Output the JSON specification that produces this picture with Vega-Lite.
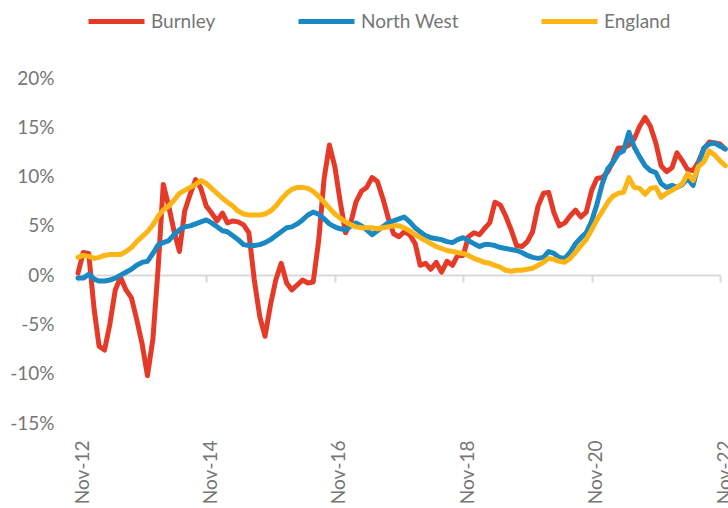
{
  "$schema": "https://vega.github.io/schema/vega-lite/v6.json",
  "width": 642,
  "height": 345,
  "autosize": {"type": "none"},
  "padding": {"left": 78, "top": 78, "right": 8, "bottom": 85},
  "config": {"view": {"stroke": null}, "font": "Lato"},
  "data": {"values": [
    {"d":"2012-11","Burnley":0.2,"North West":-0.3,"England":1.8},
    {"d":"2012-12","Burnley":2.3,"North West":-0.3,"England":2.0},
    {"d":"2013-01","Burnley":2.2,"North West":0.1,"England":1.9},
    {"d":"2013-02","Burnley":-3.5,"North West":-0.4,"England":1.7},
    {"d":"2013-03","Burnley":-7.2,"North West":-0.6,"England":1.8},
    {"d":"2013-04","Burnley":-7.6,"North West":-0.6,"England":2.0},
    {"d":"2013-05","Burnley":-5.0,"North West":-0.5,"England":2.1},
    {"d":"2013-06","Burnley":-1.5,"North West":-0.3,"England":2.1},
    {"d":"2013-07","Burnley":-0.2,"North West":0.0,"England":2.1},
    {"d":"2013-08","Burnley":-1.5,"North West":0.3,"England":2.4},
    {"d":"2013-09","Burnley":-2.3,"North West":0.6,"England":2.8},
    {"d":"2013-10","Burnley":-4.5,"North West":1.0,"England":3.4},
    {"d":"2013-11","Burnley":-7.0,"North West":1.3,"England":3.9},
    {"d":"2013-12","Burnley":-10.2,"North West":1.4,"England":4.4},
    {"d":"2014-01","Burnley":-6.5,"North West":2.2,"England":5.1},
    {"d":"2014-02","Burnley":1.0,"North West":3.1,"England":6.0},
    {"d":"2014-03","Burnley":9.2,"North West":3.3,"England":6.6},
    {"d":"2014-04","Burnley":7.0,"North West":3.5,"England":7.0},
    {"d":"2014-05","Burnley":4.5,"North West":4.1,"England":7.6},
    {"d":"2014-06","Burnley":2.4,"North West":4.6,"England":8.3},
    {"d":"2014-07","Burnley":6.5,"North West":4.9,"England":8.6},
    {"d":"2014-08","Burnley":8.2,"North West":5.0,"England":8.9},
    {"d":"2014-09","Burnley":9.7,"North West":5.2,"England":9.2},
    {"d":"2014-10","Burnley":8.8,"North West":5.4,"England":9.6},
    {"d":"2014-11","Burnley":7.0,"North West":5.6,"England":9.3},
    {"d":"2014-12","Burnley":6.3,"North West":5.3,"England":8.8},
    {"d":"2015-01","Burnley":5.5,"North West":4.9,"England":8.3},
    {"d":"2015-02","Burnley":6.3,"North West":4.5,"England":7.8},
    {"d":"2015-03","Burnley":5.3,"North West":4.4,"England":7.4},
    {"d":"2015-04","Burnley":5.5,"North West":4.0,"England":7.0},
    {"d":"2015-05","Burnley":5.4,"North West":3.6,"England":6.5},
    {"d":"2015-06","Burnley":5.1,"North West":3.1,"England":6.2},
    {"d":"2015-07","Burnley":4.3,"North West":3.0,"England":6.1},
    {"d":"2015-08","Burnley":-0.5,"North West":3.0,"England":6.1},
    {"d":"2015-09","Burnley":-4.2,"North West":3.1,"England":6.1},
    {"d":"2015-10","Burnley":-6.2,"North West":3.3,"England":6.2},
    {"d":"2015-11","Burnley":-3.0,"North West":3.6,"England":6.5},
    {"d":"2015-12","Burnley":-0.5,"North West":4.0,"England":7.0},
    {"d":"2016-01","Burnley":1.2,"North West":4.4,"England":7.7},
    {"d":"2016-02","Burnley":-0.8,"North West":4.8,"England":8.3},
    {"d":"2016-03","Burnley":-1.5,"North West":4.9,"England":8.7},
    {"d":"2016-04","Burnley":-1.0,"North West":5.2,"England":8.9},
    {"d":"2016-05","Burnley":-0.5,"North West":5.6,"England":8.9},
    {"d":"2016-06","Burnley":-0.8,"North West":6.1,"England":8.8},
    {"d":"2016-07","Burnley":-0.7,"North West":6.4,"England":8.5},
    {"d":"2016-08","Burnley":3.5,"North West":6.2,"England":8.0},
    {"d":"2016-09","Burnley":9.8,"North West":5.7,"England":7.4},
    {"d":"2016-10","Burnley":13.2,"North West":5.2,"England":6.8},
    {"d":"2016-11","Burnley":11.0,"North West":4.9,"England":6.2},
    {"d":"2016-12","Burnley":7.5,"North West":4.7,"England":5.8},
    {"d":"2017-01","Burnley":4.3,"North West":4.6,"England":5.4},
    {"d":"2017-02","Burnley":5.4,"North West":5.0,"England":5.1},
    {"d":"2017-03","Burnley":7.4,"North West":5.3,"England":4.9},
    {"d":"2017-04","Burnley":8.5,"North West":5.0,"England":4.8},
    {"d":"2017-05","Burnley":8.9,"North West":4.6,"England":4.8},
    {"d":"2017-06","Burnley":9.9,"North West":4.1,"England":4.8},
    {"d":"2017-07","Burnley":9.5,"North West":4.5,"England":4.7},
    {"d":"2017-08","Burnley":7.8,"North West":4.9,"England":4.8},
    {"d":"2017-09","Burnley":5.8,"North West":5.3,"England":4.9},
    {"d":"2017-10","Burnley":4.2,"North West":5.5,"England":5.0},
    {"d":"2017-11","Burnley":3.9,"North West":5.7,"England":5.0},
    {"d":"2017-12","Burnley":4.4,"North West":5.9,"England":4.8},
    {"d":"2018-01","Burnley":4.1,"North West":5.4,"England":4.5},
    {"d":"2018-02","Burnley":3.2,"North West":4.8,"England":4.1},
    {"d":"2018-03","Burnley":1.0,"North West":4.4,"England":3.8},
    {"d":"2018-04","Burnley":1.2,"North West":4.0,"England":3.5},
    {"d":"2018-05","Burnley":0.6,"North West":3.8,"England":3.2},
    {"d":"2018-06","Burnley":1.3,"North West":3.7,"England":2.9},
    {"d":"2018-07","Burnley":0.3,"North West":3.6,"England":2.7},
    {"d":"2018-08","Burnley":1.4,"North West":3.4,"England":2.5},
    {"d":"2018-09","Burnley":1.0,"North West":3.3,"England":2.4},
    {"d":"2018-10","Burnley":2.0,"North West":3.6,"England":2.3},
    {"d":"2018-11","Burnley":2.0,"North West":3.8,"England":2.2},
    {"d":"2018-12","Burnley":3.9,"North West":3.5,"England":2.0},
    {"d":"2019-01","Burnley":4.3,"North West":3.2,"England":1.7},
    {"d":"2019-02","Burnley":4.1,"North West":2.9,"England":1.5},
    {"d":"2019-03","Burnley":4.7,"North West":3.1,"England":1.3},
    {"d":"2019-04","Burnley":5.3,"North West":3.1,"England":1.2},
    {"d":"2019-05","Burnley":7.4,"North West":3.0,"England":1.0},
    {"d":"2019-06","Burnley":7.1,"North West":2.8,"England":0.8},
    {"d":"2019-07","Burnley":6.0,"North West":2.7,"England":0.5},
    {"d":"2019-08","Burnley":4.6,"North West":2.6,"England":0.4},
    {"d":"2019-09","Burnley":3.0,"North West":2.5,"England":0.5},
    {"d":"2019-10","Burnley":2.9,"North West":2.3,"England":0.5},
    {"d":"2019-11","Burnley":3.4,"North West":2.0,"England":0.6},
    {"d":"2019-12","Burnley":4.4,"North West":1.8,"England":0.7},
    {"d":"2020-01","Burnley":7.0,"North West":1.7,"England":1.0},
    {"d":"2020-02","Burnley":8.3,"North West":1.8,"England":1.3},
    {"d":"2020-03","Burnley":8.4,"North West":2.4,"England":1.7},
    {"d":"2020-04","Burnley":6.3,"North West":2.2,"England":1.6},
    {"d":"2020-05","Burnley":5.0,"North West":1.8,"England":1.4},
    {"d":"2020-06","Burnley":5.3,"North West":1.7,"England":1.3},
    {"d":"2020-07","Burnley":6.0,"North West":2.3,"England":1.7},
    {"d":"2020-08","Burnley":6.6,"North West":3.2,"England":2.3},
    {"d":"2020-09","Burnley":5.9,"North West":3.8,"England":3.0},
    {"d":"2020-10","Burnley":6.4,"North West":4.3,"England":3.6},
    {"d":"2020-11","Burnley":8.6,"North West":5.5,"England":4.6},
    {"d":"2020-12","Burnley":9.8,"North West":7.2,"England":5.6},
    {"d":"2021-01","Burnley":9.9,"North West":9.3,"England":6.5},
    {"d":"2021-02","Burnley":10.5,"North West":10.8,"England":7.4},
    {"d":"2021-03","Burnley":11.5,"North West":11.4,"England":8.0},
    {"d":"2021-04","Burnley":12.9,"North West":12.3,"England":8.3},
    {"d":"2021-05","Burnley":12.9,"North West":12.6,"England":8.4},
    {"d":"2021-06","Burnley":13.2,"North West":14.5,"England":9.9},
    {"d":"2021-07","Burnley":13.8,"North West":13.0,"England":8.9},
    {"d":"2021-08","Burnley":15.1,"North West":12.0,"England":8.8},
    {"d":"2021-09","Burnley":16.0,"North West":11.1,"England":8.2},
    {"d":"2021-10","Burnley":15.1,"North West":10.6,"England":8.8},
    {"d":"2021-11","Burnley":13.4,"North West":10.4,"England":8.9},
    {"d":"2021-12","Burnley":11.1,"North West":9.3,"England":7.9},
    {"d":"2022-01","Burnley":10.5,"North West":8.9,"England":8.3},
    {"d":"2022-02","Burnley":10.9,"North West":9.1,"England":8.6},
    {"d":"2022-03","Burnley":12.4,"North West":8.9,"England":8.9},
    {"d":"2022-04","Burnley":11.6,"North West":9.2,"England":9.3},
    {"d":"2022-05","Burnley":10.7,"North West":9.8,"England":10.3},
    {"d":"2022-06","Burnley":10.6,"North West":9.1,"England":9.6},
    {"d":"2022-07","Burnley":11.5,"North West":11.2,"England":11.0},
    {"d":"2022-08","Burnley":12.8,"North West":12.9,"England":11.5},
    {"d":"2022-09","Burnley":13.5,"North West":13.3,"England":12.6},
    {"d":"2022-10","Burnley":13.4,"North West":13.4,"England":12.2},
    {"d":"2022-11","Burnley":13.3,"North West":13.1,"England":11.6},
    {"d":"2022-12","Burnley":12.8,"North West":12.8,"England":11.1}
  ]},
  "transform": [{"fold": ["Burnley", "North West", "England"], "as": ["series", "value"]}],
  "mark": {"type": "line", "strokeWidth": 5, "strokeJoin": "round", "strokeCap": "round"},
  "encoding": {
    "x": {
      "field": "d", "type": "temporal",
      "scale": {"type": "utc", "domain": [{"year": 2012, "month": 11, "date": 1, "utc": true}, {"year": 2022, "month": 11, "date": 1, "utc": true}]},
      "axis": {
        "title": null, "orient": "bottom", "offset": -148, "grid": false,
        "values": [
          {"year": 2012, "month": 11, "date": 1, "utc": true},
          {"year": 2014, "month": 11, "date": 1, "utc": true},
          {"year": 2016, "month": 11, "date": 1, "utc": true},
          {"year": 2018, "month": 11, "date": 1, "utc": true},
          {"year": 2020, "month": 11, "date": 1, "utc": true},
          {"year": 2022, "month": 11, "date": 1, "utc": true}
        ],
        "format": "%b-%y", "labelAngle": -90, "labelPadding": 158, "labelOffset": 4,
        "tickSize": 7, "tickWidth": 2, "tickColor": "#d9d9d9",
        "domainColor": "#d9d9d9", "domainWidth": 2,
        "labelFont": "Lato", "labelFontSize": 19, "labelColor": "#767676",
        "labelOverlap": false, "labelBound": false, "labelFlush": false
      }
    },
    "y": {
      "field": "value", "type": "quantitative",
      "scale": {"domain": [-15, 20], "nice": false, "zero": false},
      "axis": {
        "title": null, "grid": false, "domain": false, "ticks": false,
        "values": [-15, -10, -5, 0, 5, 10, 15, 20],
        "labelExpr": "datum.value + '%'", "labelPadding": 24,
        "labelFont": "Lato", "labelFontSize": 19, "labelColor": "#767676"
      }
    },
    "color": {
      "field": "series", "type": "nominal",
      "scale": {"domain": ["Burnley", "North West", "England"], "range": ["#E63A28", "#1A88C2", "#FDB516"]},
      "legend": {
        "title": null, "orient": "none", "legendX": 8, "legendY": -87, "direction": "horizontal",
        "gridAlign": "none",
        "symbolType": "stroke", "symbolSize": 3136, "symbolStrokeWidth": 5,
        "labelFont": "Lato", "labelFontSize": 19, "labelColor": "#767676",
        "labelOffset": 4, "columnPadding": 72
      }
    }
  }
}
